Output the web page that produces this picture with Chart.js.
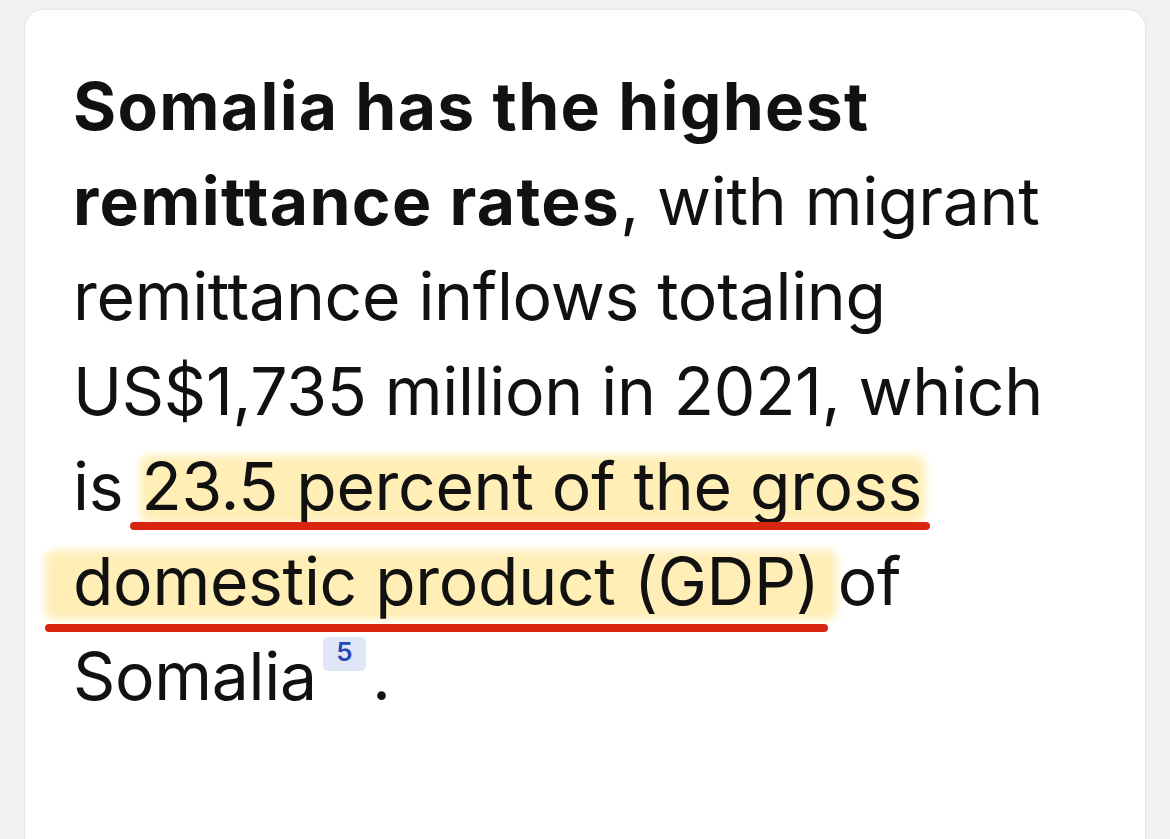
<!DOCTYPE html>
<html><head><meta charset="utf-8">
<script src="https://cdn.jsdelivr.net/npm/chart.js@4/dist/chart.umd.min.js"></script>
<style>
html,body{margin:0;padding:0;width:1170px;height:839px;overflow:hidden;background:#f1f1f3;}
.card{position:absolute;left:25px;top:10px;width:1120px;height:900px;background:#fff;border-radius:18px;box-shadow:0 0 2px rgba(0,0,0,0.15);}
.line{position:absolute;left:73px;font-family:Inter,"Open Sans",sans-serif;font-size:66px;color:#111;white-space:nowrap;letter-spacing:-0.3px;}
b{font-weight:700;letter-spacing:1.3px;}
.hl{position:absolute;background:rgba(255,221,110,0.5);filter:blur(4px);border-radius:10px;}
.ul{position:absolute;height:8px;background:#d8250f;border-radius:4px;}
.sup{position:absolute;left:323px;top:637px;width:43px;height:34px;background:#dfe6f7;border-radius:5px;color:#2446b8;font:600 26px Inter,sans-serif;text-align:center;line-height:30px;}
</style></head><body>
<div class="card"></div>
<div class="hl" style="left:140px;top:455px;width:785px;height:68px"></div>
<div class="hl" style="left:45px;top:550px;width:792px;height:70px"></div>
<div class="line" style="top:66px"><b>Somalia has the highest</b></div>
<div class="line" style="top:161px"><b>remittance rates</b>, with migrant</div>
<div class="line" style="top:256px">remittance inflows totaling</div>
<div class="line" style="top:351px">US$1,735 million in 2021, which</div>
<div class="line" style="top:446px">is 23.5 percent of the gross</div>
<div class="line" style="top:541px">domestic product (GDP) of</div>
<div class="line" style="top:636px">Somalia</div>
<div class="line" style="top:636px;left:372px">.</div>
<div class="ul" style="left:130px;top:522px;width:800px"></div>
<div class="ul" style="left:45px;top:624px;width:783px"></div>
<div class="sup">5</div>
<canvas id="c" width="1" height="1" style="position:absolute;left:0;top:0;width:1px;height:1px"></canvas>
<script>
const categories=[];const values=[];
new Chart(document.getElementById('c'),{type:'bar',data:{labels:categories,datasets:[{data:values}]},options:{responsive:false,animation:false,plugins:{legend:{display:false}},scales:{x:{display:false},y:{display:false}}}});
</script>
</body></html>
